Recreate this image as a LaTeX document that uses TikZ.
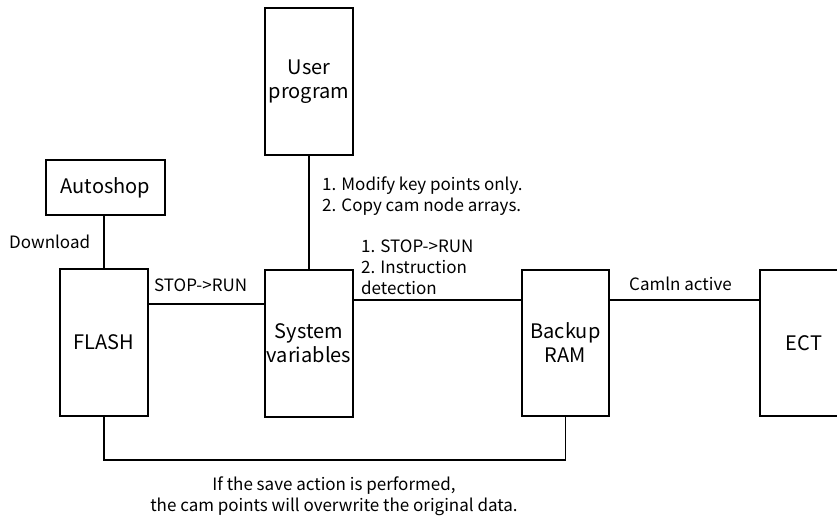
\documentclass[tikz,border=0pt]{standalone}
\usepackage{fontspec}
\setmainfont{Noto Sans CJK SC}
\begin{document}
\begin{tikzpicture}[x=1pt,y=-1pt,
  box/.style={draw, line width=1.1pt, inner sep=0pt, align=center, font=\fontsize{20}{24}\selectfont},
  lbl/.style={inner sep=0pt, align=left, font=\fontsize{17}{21}\selectfont},
  wire/.style={line width=1.1pt}]
\useasboundingbox (0,0) rectangle (837,515);
\begin{scope}
\clip (0,0) rectangle (837,515);
\node[box, minimum width=119pt, minimum height=55pt] (auto) at (105.5,187.5) {Autoshop};
\node[box, minimum width=88pt, minimum height=147pt] (flash) at (104,342.5) {FLASH};
\node[box, minimum width=88pt, minimum height=147pt] (user) at (309,81.5) {User\\program};
\node[box, minimum width=88pt, minimum height=147pt] (sys) at (309,343.5) {System\\variables};
\node[box, minimum width=87pt, minimum height=146pt] (bak) at (565.5,343) {Backup\\RAM};
\node[box, minimum width=88pt, minimum height=146pt] (ect) at (804,343) {ECT};
\end{scope}
\draw[wire] (flash.north) -- (flash.north |- auto.south);
\draw[wire] (flash.east |- 0,304) -- (sys.west |- 0,304);
\draw[wire] (user.south) -- (sys.north);
\draw[wire] (sys.east |- 0,300) -- (bak.west |- 0,300);
\draw[wire] (bak.east |- 0,300) -- (ect.west |- 0,300);
\draw[wire] (flash.south) -- (flash.south |- 0,460) -| (bak.south);
\node[lbl, anchor=base west] (ldl) at (9,248) {Download};
\node[lbl, anchor=base west] (lsr) at (154,291) {STOP->RUN};
\node[lbl, anchor=base west] (lmod) at (322,211) {1. Modify key points only.\\2. Copy cam node arrays.};
\node[lbl, anchor=base west] (lins) at (361,294) {1. STOP->RUN\\2. Instruction\\detection};
\node[lbl, anchor=base west] (lcam) at (629,290) {Camln active};
\node[lbl, align=center, anchor=base] (lsave) at (334,511) {If the save action is performed,\\the cam points will overwrite the original data.};
\end{tikzpicture}
\end{document}
